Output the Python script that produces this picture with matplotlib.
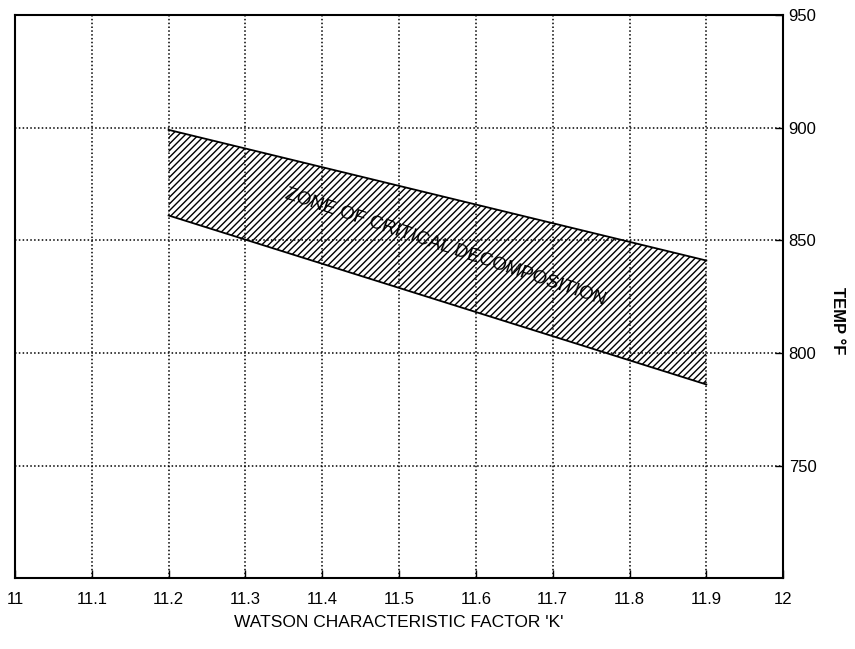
import numpy as np
import matplotlib.pyplot as plt

plt.rcParams['font.family'] = ['Liberation Sans', 'DejaVu Sans']
plt.rcParams['hatch.linewidth'] = 1.0

# zone edges
k_edge = [11.2, 11.9]
upper_temp = [899, 841]
lower_temp = [861, 786]

xticks = [11, 11.1, 11.2, 11.3, 11.4, 11.5, 11.6, 11.7, 11.8, 11.9, 12]
xlabels = ['11', '11.1', '11.2', '11.3', '11.4', '11.5', '11.6', '11.7', '11.8', '11.9', '12']
yticks = [750, 800, 850, 900, 950]

fig = plt.figure(figsize=(8.55, 6.49), dpi=100)
ax = fig.add_axes([0.0175, 0.109, 0.8985, 0.868])

ax.set_xlim(11, 12)
ax.set_ylim(700, 950)

# dotted grid
for x in xticks[1:-1]:
    ax.axvline(x, color='black', linestyle=(0, (1, 1.5)), linewidth=1.1, zorder=1)
for y in yticks[:-1]:
    ax.axhline(y, color='black', linestyle=(0, (1, 1.5)), linewidth=1.1, zorder=1)

# the zone
ax.fill_between(k_edge, lower_temp, upper_temp, facecolor='none', edgecolor='black',
                hatch='/////', linewidth=0, zorder=2)
ax.plot(k_edge, upper_temp, color='black', linewidth=1.3, zorder=3)
ax.plot(k_edge, lower_temp, color='black', linewidth=1.3, zorder=3)

ax.text(11.56, 847, 'ZONE OF CRITICAL DECOMPOSITION', rotation=-18.5, ha='center', va='center',
        fontsize=13.5, color='black', zorder=4, rotation_mode='anchor')

ax.set_xticks(xticks)
ax.set_xticklabels(xlabels, fontsize=12)
ax.yaxis.tick_right()
ax.set_yticks(yticks)
ax.set_yticklabels([str(v) for v in yticks], fontsize=12)
ax.tick_params(axis='x', direction='in', length=6, width=1, pad=10)
ax.tick_params(axis='y', direction='in', length=6, width=1, pad=4)
for s in ax.spines.values():
    s.set_linewidth(1.5)

ax.set_xlabel("WATSON CHARACTERISTIC FACTOR 'K'", fontsize=12.5, labelpad=6)
ax.yaxis.set_label_position('right')
ax.set_ylabel('TEMP °F', fontsize=12, rotation=-90, fontweight='bold')
ax.yaxis.set_label_coords(1.08, 0.458)

fig.savefig('out.png', dpi=100)
